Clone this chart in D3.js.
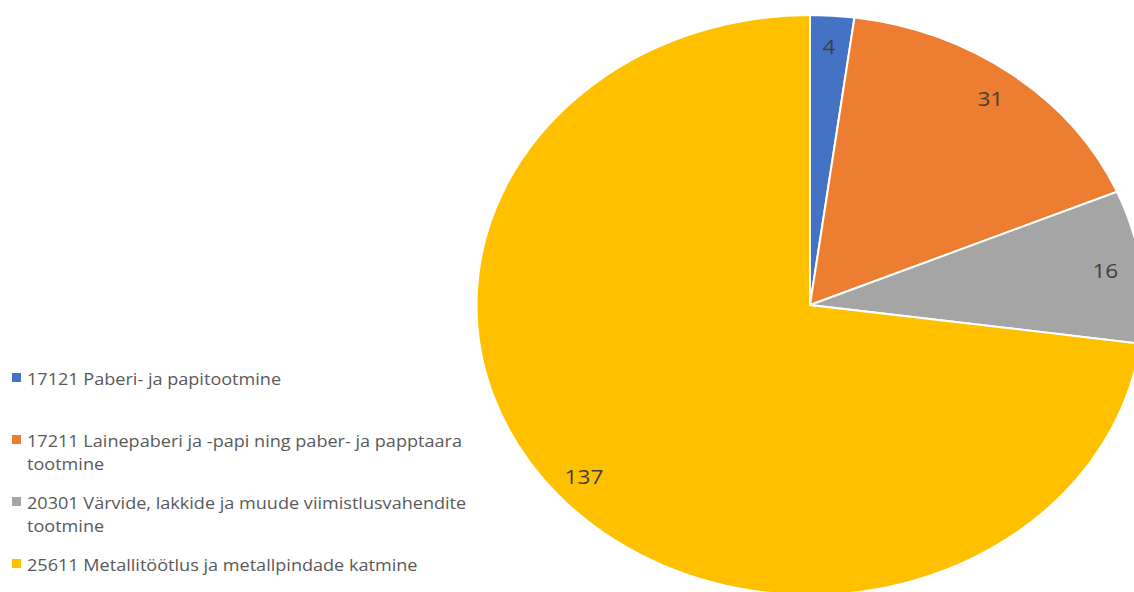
<!DOCTYPE html>
<html>
<head>
<meta charset="utf-8">
<script src="https://cdnjs.cloudflare.com/ajax/libs/d3/7.8.5/d3.min.js"></script>
<style>
  body { margin: 0; background: #fff; }
  svg { display: block; font-family: "Open Sans", sans-serif; }
</style>
</head>
<body>
<div id="chart"></div>
<script>
const categories = [
  '17121 Paberi- ja papitootmine',
  '17211 Lainepaberi ja -papi ning paber- ja papptaara tootmine',
  '20301 Värvide, lakkide ja muude viimistlusvahendite tootmine',
  '25611 Metallitöötlus ja metallpindade katmine'
]
const legendLines = [
  ['17121 Paberi- ja papitootmine'],
  ['17211 Lainepaberi ja -papi ning paber- ja papptaara', 'tootmine'],
  ['20301 Värvide, lakkide ja muude viimistlusvahendite', 'tootmine'],
  ['25611 Metallitöötlus ja metallpindade katmine']
]
const values = [4, 31, 16, 137]
const colors = ['#4472c4', '#ed7d31', '#a5a5a5', '#ffc000']

const width = 1134
const height = 592
const cx = 810
const cy = 305
const radius = 290
// the original picture is stretched sideways, pie and text alike
const stretchX = 1.15
const textStretchX = 1.13

const svg = d3.select('#chart').append('svg')
  .attr('width', width)
  .attr('height', height)

const data = values.map((v, i) => ({ name: categories[i], value: v, color: colors[i] }))

const pie = d3.pie().sort(null).value(d => d.value)
const arcs = pie(data)
const arc = d3.arc().innerRadius(0).outerRadius(radius)

const pieG = svg.append('g')
  .attr('transform', `translate(${cx},${cy}) scale(${stretchX},1)`)

pieG.selectAll('path.slice')
  .data(arcs)
  .enter()
  .append('path')
    .attr('class', 'slice')
    .attr('d', arc)
    .style('fill', d => d.data.color)
    .style('stroke', '#fff')
    .style('stroke-width', 2)
    .attr('vector-effect', 'non-scaling-stroke')

const labelArc = d3.arc().innerRadius(260).outerRadius(260)

svg.selectAll('text.value-label')
  .data(arcs)
  .enter()
  .append('text')
    .attr('class', 'value-label')
    .attr('transform', d => `translate(${cx + labelArc.centroid(d)[0] * stretchX - 1},${cy + labelArc.centroid(d)[1]}) scale(${textStretchX},1)`)
    .attr('text-anchor', 'middle')
    .attr('dominant-baseline', 'central')
    .style('font-size', '20px')
    .style('fill', '#404040')
    .text(d => d.data.value)

// legend
const legendY = [378, 440, 502, 564]
const legend = svg.selectAll('g.legend-item')
  .data(data)
  .enter()
  .append('g')
    .attr('class', 'legend-item')
    .attr('transform', (d, i) => `translate(12,${legendY[i]})`)

legend.append('rect')
  .attr('x', 0)
  .attr('y', -5)
  .attr('width', 9)
  .attr('height', 9)
  .style('fill', d => d.color)

legend.append('text')
  .attr('transform', `translate(15,0) scale(${textStretchX},1)`)
  .attr('dominant-baseline', 'central')
  .style('font-size', '16px')
  .style('fill', '#595959')
  .selectAll('tspan')
  .data((d, i) => legendLines[i])
  .enter()
  .append('tspan')
    .attr('x', 0)
    .attr('dy', (d, j) => j === 0 ? 0 : 23)
    .text(d => d)
</script>
</body>
</html>
